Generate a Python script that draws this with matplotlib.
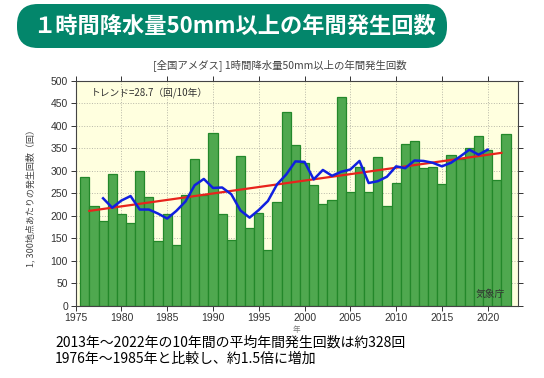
import numpy as np
import matplotlib
matplotlib.use('Agg')
import matplotlib.pyplot as plt
from matplotlib.patches import FancyBboxPatch
from matplotlib.ticker import MultipleLocator

plt.rcParams['font.family'] = ['Noto Sans CJK JP', 'DejaVu Sans']

# data
years = list(range(1976, 2023))
counts = [287, 221, 189, 293, 204, 183, 300, 242, 143, 204,
          135, 246, 327, 247, 385, 204, 146, 333, 172, 207,
          123, 230, 431, 357, 318, 268, 226, 236, 464, 253,
          309, 252, 330, 222, 273, 359, 367, 307, 309, 270,
          335, 327, 350, 378, 346, 280, 383]

# 5-year running mean (blue), 1978-2020
ma_years = list(range(1978, 2021))
ma_values = [239, 218, 234, 244, 214, 214, 205, 194, 211, 232,
             268, 282, 262, 263, 248, 212, 196, 213, 233, 270,
             292, 321, 320, 281, 302, 289, 298, 303, 322, 273,
             277, 287, 310, 306, 323, 322, 318, 310, 318, 332,
             347, 336, 347]

# long-term trend (red)
trend_years = [1976.5, 2021.5]
trend_values = [211, 340]

title = '１時間降水量50mm以上の年間発生回数'
subtitle = '[全国アメダス] 1時間降水量50mm以上の年間発生回数'
trend_label = 'トレンド=28.7（回/10年）'
ylabel = '1, 300地点あたりの発生回数（回）'
note_lines = ['2013年～2022年の10年間の平均年間発生回数は約328回',
              '1976年～1985年と比較し、約1.5倍に増加']

fig = plt.figure(figsize=(5.44, 3.78), dpi=100)

# background layer in pixel coordinates for the banner
bg = fig.add_axes([0, 0, 1, 1])
bg.set_xlim(0, 544)
bg.set_ylim(378, 0)
bg.axis('off')
bg.add_patch(FancyBboxPatch((17, 4), 430, 44,
                            boxstyle='round,pad=0,rounding_size=21',
                            facecolor='#03866b', edgecolor='none'))
bg.text(234, 26, title, color='white', fontsize=16, fontweight='bold',
        ha='center', va='center')
bg.text(280, 66, subtitle, color='#444444', fontsize=7.5,
        ha='center', va='center')
bg.text(55, 343, note_lines[0], color='black', fontsize=10, va='center')
bg.text(55, 359, note_lines[1], color='black', fontsize=10, va='center')

# main chart
ax = fig.add_axes([0.139, 0.191, 0.813, 0.595])
ax.set_facecolor('#ffffdf')
ax.bar(years, counts, width=1.0, color='#4fa84f', edgecolor='#23882a',
       linewidth=0.9, zorder=2)
ax.plot(trend_years, trend_values, color='#e8231c', lw=1.6, zorder=3)
ax.plot(ma_years, ma_values, color='#1020e0', lw=1.8, zorder=4)

ax.set_xlim(1975, 2023.3)
ax.set_ylim(0, 500)
ax.xaxis.set_major_locator(MultipleLocator(5))
ax.yaxis.set_major_locator(MultipleLocator(50))
ax.grid(True, color='#b8b8a8', linestyle=':', linewidth=0.7, zorder=0)
ax.set_axisbelow(True)
ax.tick_params(which='both', direction='out', length=3.5, width=0.7,
               top=True, right=True, labelsize=7.5, colors='#333333',
               pad=2)
for lab in ax.get_xticklabels() + ax.get_yticklabels():
    lab.set_family(['Liberation Sans', 'DejaVu Sans'])
for s in ax.spines.values():
    s.set_color('#444444')
    s.set_linewidth(0.8)

ax.text(0.035, 0.95, trend_label, transform=ax.transAxes, fontsize=7,
        color='#333333', va='center', ha='left')
ax.text(0.937, 0.052, '気象庁', transform=ax.transAxes, fontsize=7,
        color='#333333', va='center', ha='center', zorder=5)

ax.set_ylabel(ylabel, fontsize=6.5, color='#444444')
ax.yaxis.set_label_coords(-0.09, 0.49)
ax.set_xlabel('年', fontsize=5.5, color='#777777')
ax.xaxis.set_label_coords(0.5, -0.09)

fig.savefig('out.png', dpi=100)
